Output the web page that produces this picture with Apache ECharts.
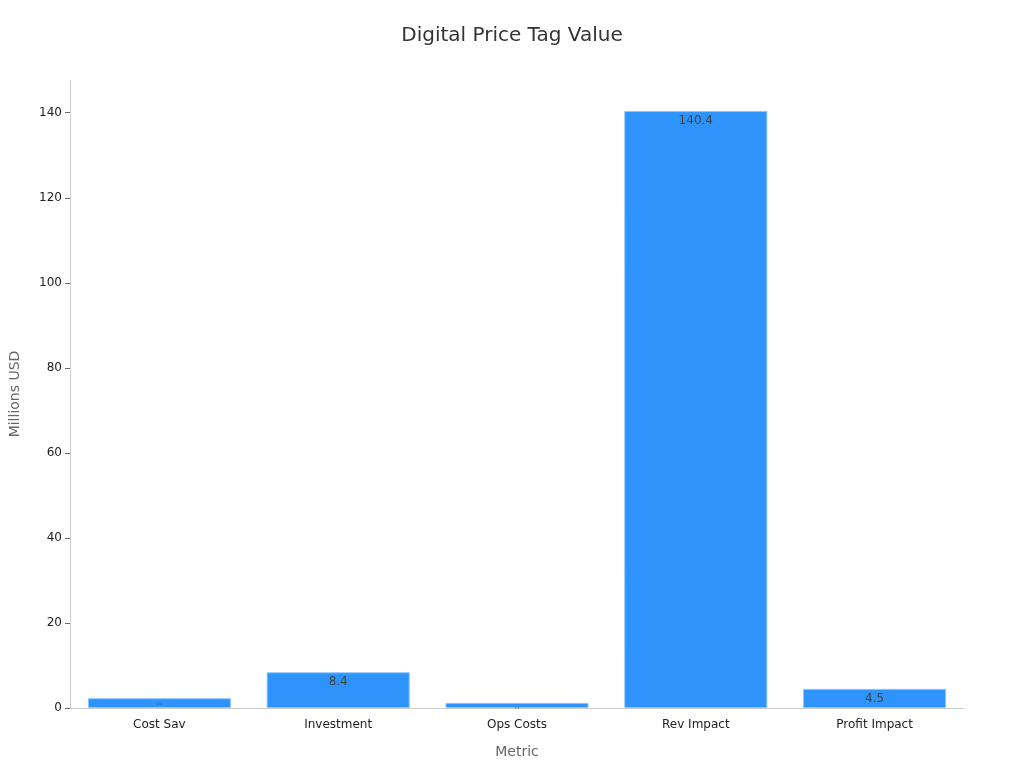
<!DOCTYPE html>
<html>
<head>
<meta charset="utf-8">
<script src="https://cdn.jsdelivr.net/npm/echarts@6/dist/echarts.min.js"></script>
<style>html,body{margin:0;padding:0;background:#fff}#c{width:1024px;height:768px}</style>
</head>
<body>
<div id="c"></div>
<script>
const categories = ['Cost Sav', 'Investment', 'Ops Costs', 'Rev Impact', 'Profit Impact'];
const values = [2.3, 8.4, 1.2, 140.4, 4.5];
const labelSizes = [3, 12, 3, 12, 12];

const chart = echarts.init(document.getElementById('c'));
chart.setOption({
  animation: false,
  textStyle: { fontFamily: 'DejaVu Sans' },
  title: {
    text: 'Digital Price Tag Value',
    left: 'center', top: 21,
    textStyle: { fontSize: 20, fontWeight: 'normal', color: '#333' }
  },
  grid: { left: 67, right: 60, top: 80, bottom: 60 },
  xAxis: {
    type: 'category',
    data: categories,
    name: 'Metric', nameLocation: 'middle', nameGap: 37,
    nameTextStyle: { fontSize: 14, color: '#666' },
    axisLine: { lineStyle: { color: '#ccc' } },
    axisTick: { alignWithLabel: true, lineStyle: { color: '#333' } },
    axisLabel: { color: '#222', fontSize: 12, margin: 11 }
  },
  yAxis: {
    type: 'value',
    min: 0, max: 147.7, interval: 20,
    name: 'Millions USD', nameLocation: 'middle', nameGap: 48,
    nameTextStyle: { fontSize: 14, color: '#666' },
    axisLine: { show: true, lineStyle: { color: '#ccc' } },
    axisTick: { show: true, lineStyle: { color: '#666' } },
    axisLabel: { color: '#222', fontSize: 12, showMaxLabel: false },
    splitLine: { show: false }
  },
  series: [{
    type: 'bar',
    data: values.map((v, i) => ({ value: v, label: { fontSize: labelSizes[i] } })),
    barCategoryGap: '20%',
    itemStyle: { color: '#2E93FA', borderColor: '#8cc4fb', borderWidth: 1 },
    label: { show: true, position: 'insideTop', color: '#444', distance: 4 }
  }]
});
</script>
</body>
</html>
